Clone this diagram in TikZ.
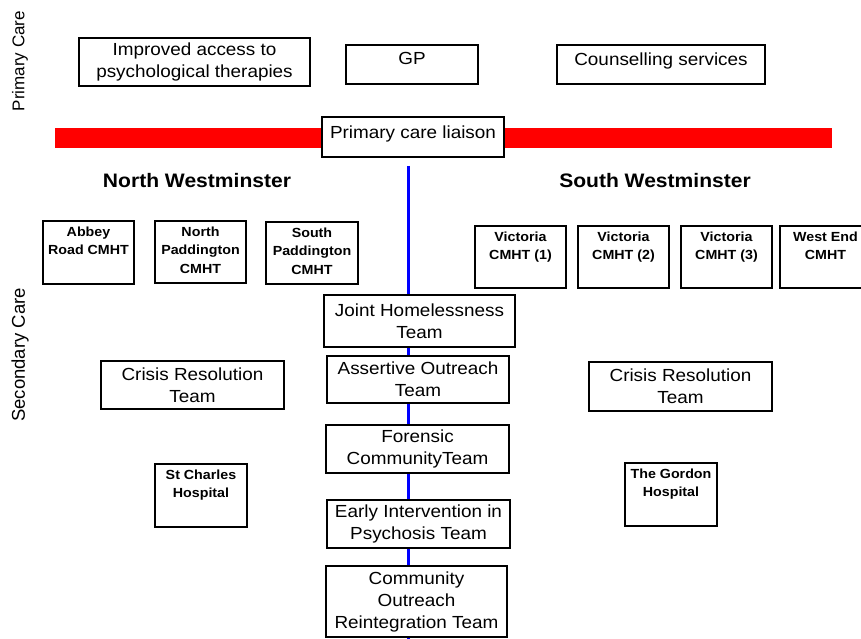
\documentclass[tikz,border=0pt]{standalone}
\usepackage{fontspec}
\setmainfont{Liberation Sans}[FakeStretch=1.08]
\newfontfamily\sidefont{Liberation Sans}
\usepackage{tikz}
\usetikzlibrary{positioning}

\begin{document}
\begin{tikzpicture}[x=1pt, y=-1pt,
	box/.style={draw, fill=white, line width=1.5pt, inner sep=1pt, align=center, font=\fontsize{17.5}{22}\selectfont},
	topbox/.style={draw, fill=white, line width=1.5pt, inner sep=0pt},
	toptext/.style={anchor=north, yshift=-7pt, inner sep=1pt, align=center, font=\fontsize{17.5}{22}\selectfont},
	smalltext/.style={anchor=north, yshift=-5.5pt, inner sep=1pt, align=center, font=\bfseries\fontsize{13.2}{18.4}\selectfont},
	heading/.style={font=\bfseries\fontsize{19.5}{22}\selectfont},
	side/.style={rotate=90, font=\sidefont\fontsize{17}{20}\selectfont},
	spine/.style={draw=blue, line width=2.2pt}]
		\useasboundingbox (0,0) rectangle (861,639);

		% primary care
		\node[side] (primary) at (20,61) {Primary Care};
		\node[box, minimum width=231pt, minimum height=48pt] (iapt) at (194.5,62) {Improved access to\\psychological therapies};
		\node[topbox, minimum width=132pt, minimum height=39pt, label={[toptext]north:GP}] (gp) at (412,64.5) {};
		\node[topbox, minimum width=208pt, minimum height=39pt, label={[toptext]north:Counselling services}] (couns) at (661,64.5) {};

		% red divider with liaison
		\fill[red] (55,128) rectangle (832,148);
		\node[topbox, minimum width=182pt, minimum height=40pt, label={[toptext, yshift=-1pt]north:Primary care liaison}] (liaison) at (413,137) {};

		% headings
		\node[side, font=\sidefont\fontsize{18.5}{20}\selectfont] (secondary) at (20,355) {Secondary Care};
		\node[heading] (north) at (197,181) {North Westminster};
		\node[heading] (south) at (655,181) {South Westminster};

		% blue spine coordinates
		\coordinate (spinetop) at (408.5,166);
		\coordinate (spinebot) at (408.5,639);

		% CMHTs
		\node[topbox, minimum width=91pt, minimum height=63pt, label={[smalltext]north:{Abbey\\Road CMHT}}] (abbey) at (88.5,252.5) {};
		\node[topbox, minimum width=91pt, minimum height=62pt, label={[smalltext]north:{North\\Paddington\\CMHT}}] (npad) at (200.5,252) {};
		\node[topbox, minimum width=92pt, minimum height=62pt, label={[smalltext]north:{South\\Paddington\\CMHT}}] (spad) at (312,253) {};
		\node[topbox, minimum width=91pt, minimum height=62pt, label={[smalltext]north:{Victoria\\CMHT (1)}}] (vic1) at (520.5,257) {};
		\node[topbox, minimum width=91pt, minimum height=62pt, label={[smalltext]north:{Victoria\\CMHT (2)}}] (vic2) at (623.5,257) {};
		\node[topbox, minimum width=91pt, minimum height=62pt, label={[smalltext]north:{Victoria\\CMHT (3)}}] (vic3) at (726.5,257) {};
		\node[topbox, minimum width=91pt, minimum height=62pt, label={[smalltext]north:{West End\\CMHT}}] (westend) at (825.5,257) {};

		% central teams
		\node[box, minimum width=191pt, minimum height=52pt] (joint) at (419.5,321) {Joint Homelessness\\Team};
		\node[box, minimum width=182pt, minimum height=47pt] (assertive) at (418,379.5) {Assertive Outreach\\Team};
		\node[box, minimum width=183pt, minimum height=48pt] (forensic) at (417.5,449) {Forensic\\CommunityTeam};
		\node[box, minimum width=183pt, minimum height=48pt] (early) at (418.5,524) {Early Intervention in\\Psychosis Team};
		\node[box, minimum width=181pt, minimum height=71pt] (cort) at (416.5,601.5) {Community\\Outreach\\Reintegration Team};

		% crisis teams and hospitals
		\node[box, minimum width=183pt, minimum height=48pt] (crisisn) at (192.5,385) {Crisis Resolution\\Team};
		\node[box, minimum width=183pt, minimum height=49pt] (crisiss) at (680.5,386.5) {Crisis Resolution\\Team};
		\node[topbox, minimum width=92pt, minimum height=63pt, label={[smalltext]north:{St Charles\\Hospital}}] (stcharles) at (201,495.5) {};
		\node[topbox, minimum width=92pt, minimum height=63pt, label={[smalltext]north:{The Gordon\\Hospital}}] (gordon) at (671,494.5) {};

		% draw spine
		\draw[spine] (spinetop) -- (joint.north -| spinetop);
		\draw[spine] (joint.south -| spinetop) -- (assertive.north -| spinetop);
		\draw[spine] (assertive.south -| spinetop) -- (forensic.north -| spinetop);
		\draw[spine] (forensic.south -| spinetop) -- (early.north -| spinetop);
		\draw[spine] (early.south -| spinetop) -- (cort.north -| spinetop);
		\draw[spine] (cort.south -| spinetop) -- (spinebot);
	\end{tikzpicture}
\end{document}
